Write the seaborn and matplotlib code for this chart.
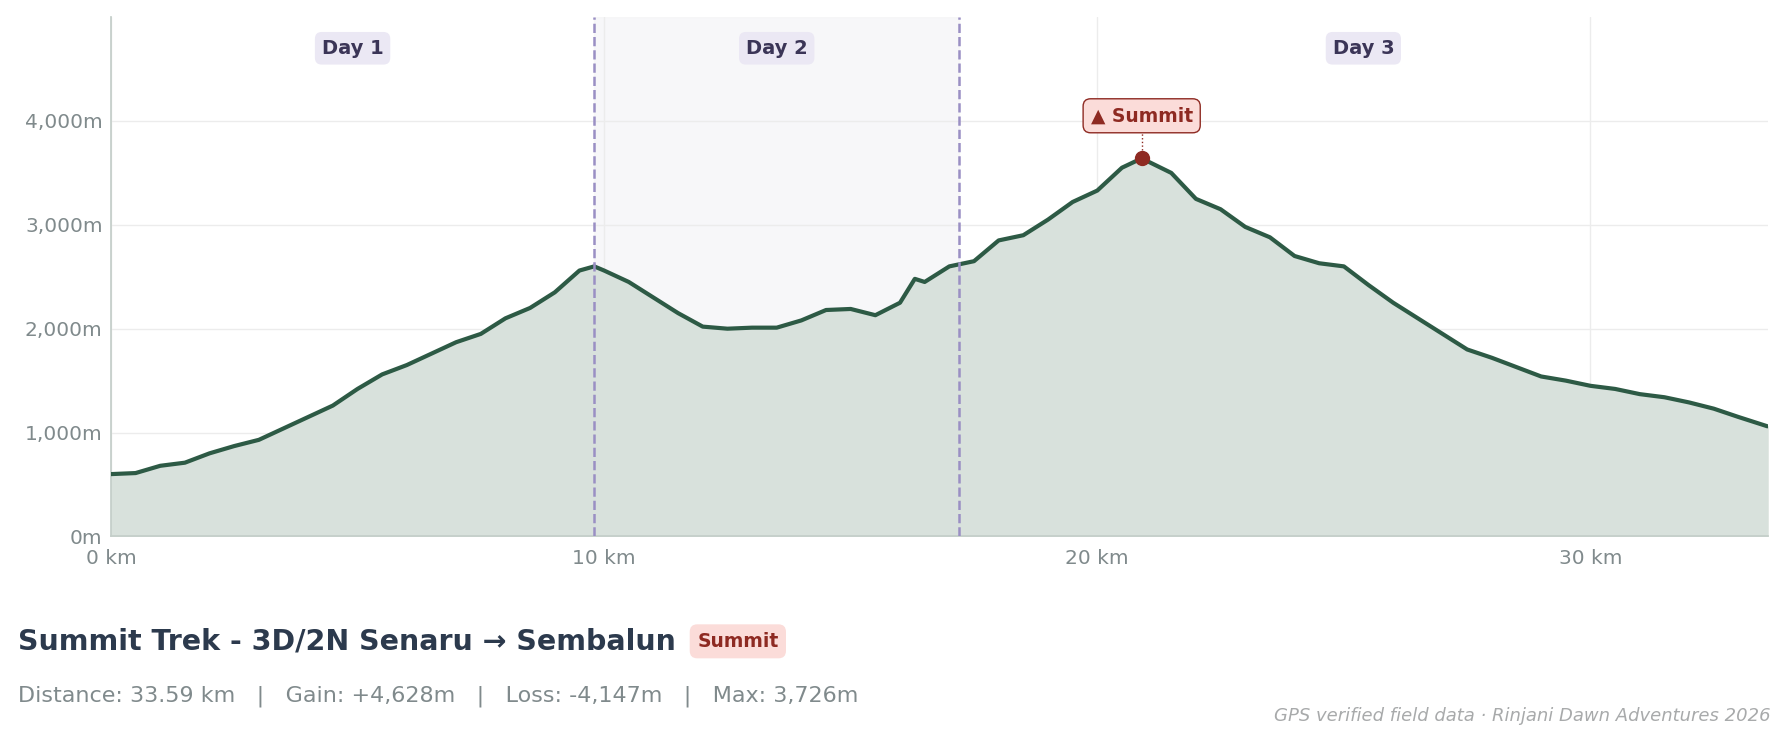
import numpy as np
import pandas as pd
import seaborn as sns
import matplotlib.pyplot as plt
from matplotlib.ticker import FuncFormatter

distance_km = [0, 0.5, 1, 1.5, 2, 2.5, 3, 3.5, 4, 4.5, 5, 5.5, 6, 6.5, 7, 7.5, 8, 8.5, 9,
               9.5, 9.8, 10, 10.5, 11, 11.5, 12, 12.5, 13, 13.5, 14, 14.5, 15, 15.5, 16,
               16.3, 16.5, 17, 17.5, 18, 18.5, 19, 19.5, 20, 20.5, 20.9, 21.5, 22, 22.5,
               23, 23.5, 24, 24.5, 25, 25.5, 26, 26.5, 27, 27.5, 28, 28.5, 29, 29.5, 30,
               30.5, 31, 31.5, 32, 32.5, 33, 33.59]
elevation_m = [600, 610, 680, 710, 800, 870, 930, 1040, 1150, 1260, 1420, 1560, 1650, 1760,
               1870, 1950, 2100, 2200, 2350, 2560, 2600, 2560, 2450, 2300, 2150, 2020, 2000,
               2010, 2010, 2080, 2180, 2190, 2130, 2250, 2480, 2450, 2600, 2650, 2850, 2900,
               3050, 3220, 3330, 3550, 3640, 3500, 3250, 3150, 2980, 2880, 2700, 2630, 2600,
               2420, 2250, 2100, 1950, 1800, 1720, 1630, 1540, 1500, 1450, 1420, 1370, 1340,
               1290, 1230, 1150, 1060]
day_breaks = [9.8, 17.2]
day_labels = ["Day 1", "Day 2", "Day 3"]
summit_km, summit_m = 20.9, 3640

df = pd.DataFrame({"km": distance_km, "ele": elevation_m})

sns.set_theme(style="whitegrid")
plt.rcParams['font.family'] = ['DejaVu Sans']

fig = plt.figure(figsize=(17.89, 7.44), dpi=100)
ax = fig.add_axes([0.062, 0.279, 0.926, 0.698])

line_c = '#2d5a45'
ax.fill_between(df["km"], df["ele"], color='#d8e1dc', zorder=1)
sns.lineplot(data=df, x="km", y="ele", color=line_c, linewidth=3, ax=ax, zorder=3)

xmax = distance_km[-1]
ax.set_xlim(0, xmax)
ax.set_ylim(0, 5000)
ax.axvspan(day_breaks[0], day_breaks[1], color='#f3f3f5', alpha=0.6, zorder=0)
for b in day_breaks:
    ax.axvline(b, color='#9a8fc4', linestyle='--', linewidth=1.8, zorder=4)

bounds = [0] + day_breaks + [xmax]
for i, lab in enumerate(day_labels):
    ax.text((bounds[i] + bounds[i + 1]) / 2, 4700, lab, ha='center', va='center',
            fontsize=14, fontweight='bold', color='#3b3557',
            bbox=dict(boxstyle='round,pad=0.35', fc='#ebe8f4', ec='none'))

ax.plot([summit_km], [summit_m], 'o', color='#8e2a22', markersize=10, zorder=5)
ax.plot([summit_km, summit_km], [summit_m + 80, 3900], color='#8e2a22', linestyle=':', linewidth=1)
ax.text(summit_km, 4050, "▲ Summit", ha='center', va='center', fontsize=13.5,
        fontweight='bold', color='#8e2a22',
        bbox=dict(boxstyle='round,pad=0.4', fc='#fbdcd9', ec='#8e2a22', lw=1))

ax.set_xticks([0, 10, 20, 30])
ax.set_yticks([0, 1000, 2000, 3000, 4000])
ax.xaxis.set_major_formatter(FuncFormatter(lambda v, p: f"{v:.0f} km"))
ax.yaxis.set_major_formatter(FuncFormatter(lambda v, p: f"{v:,.0f}m"))
ax.tick_params(labelsize=14.5, colors='#808a8c', length=0)
ax.tick_params(axis='x', pad=9)
ax.tick_params(axis='y', pad=6)
ax.set_xlabel("")
ax.set_ylabel("")
ax.grid(color='#ececec', linewidth=1)
for s in ['top', 'right']:
    ax.spines[s].set_visible(False)
for s in ['left', 'bottom']:
    ax.spines[s].set_color('#c4cec9')

t = fig.text(0.010, 0.138, "Summit Trek - 3D/2N Senaru → Sembalun", fontsize=20.5,
             fontweight='bold', color='#2c3a4d', va='center')
fig.canvas.draw()
bb = t.get_window_extent().transformed(fig.transFigure.inverted())
fig.text(bb.x1 + 0.012, 0.138, "Summit", fontsize=13.5, fontweight='bold', color='#8e2a22',
         va='center', bbox=dict(boxstyle='round,pad=0.4', fc='#fbdcd9', ec='none'))
fig.text(0.010, 0.064, "Distance: 33.59 km   |   Gain: +4,628m   |   Loss: -4,147m   |   Max: 3,726m",
         fontsize=16, color='#808a8c', va='center')
fig.text(0.990, 0.038, "GPS verified field data · Rinjani Dawn Adventures 2026", fontsize=13,
         color='#a8aaab', style='italic', ha='right', va='center')

fig.savefig("out.png", dpi=100)
